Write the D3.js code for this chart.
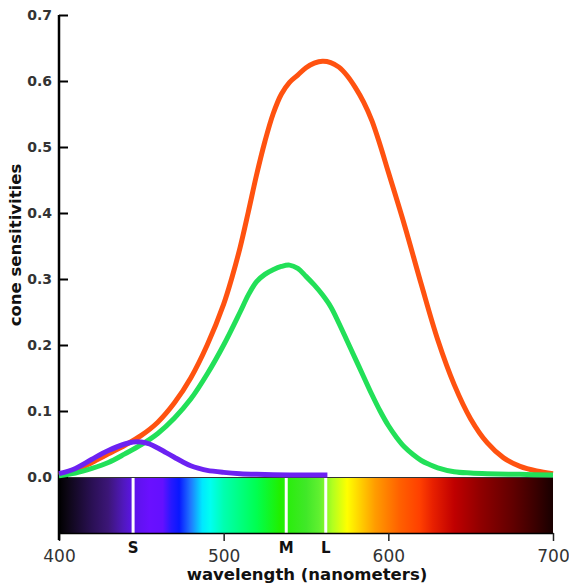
<!DOCTYPE html>
<html>
<head>
<meta charset="utf-8">
<script src="https://cdn.jsdelivr.net/npm/d3@7"></script>
<style>
  html, body { margin: 0; padding: 0; background: #fff; }
  svg { display: block; }
</style>
</head>
<body>
<svg id="chart" width="569" height="584"></svg>
<script>
// ---- data ----
const wavelengthsL = [400,410,420,430,440,450,460,470,480,490,500,505,510,515,520,525,530,535,540,545,550,555,560,565,570,575,580,585,590,595,600,610,620,630,640,650,660,670,680,690,700];
const valuesL      = [0.003,0.010,0.022,0.035,0.048,0.063,0.083,0.112,0.150,0.200,0.262,0.302,0.348,0.402,0.458,0.508,0.550,0.580,0.598,0.609,0.620,0.627,0.630,0.628,0.621,0.608,0.590,0.568,0.540,0.503,0.462,0.380,0.292,0.208,0.140,0.088,0.052,0.029,0.016,0.009,0.005];

const wavelengthsM = [400,410,420,430,440,450,460,470,480,490,500,510,515,520,525,530,535,540,545,550,555,560,565,570,575,580,585,590,595,600,605,610,615,620,625,630,640,650,660,680,700];
const valuesM      = [0.002,0.006,0.013,0.022,0.035,0.049,0.066,0.089,0.118,0.156,0.200,0.250,0.276,0.296,0.307,0.314,0.319,0.321,0.316,0.304,0.291,0.276,0.258,0.233,0.206,0.179,0.152,0.125,0.100,0.078,0.060,0.045,0.034,0.025,0.019,0.014,0.008,0.006,0.005,0.004,0.003];

const wavelengthsS = [400,410,420,430,440,445,450,455,460,465,470,475,480,485,490,500,510,520,540,563];
const valuesS      = [0.005,0.013,0.027,0.040,0.050,0.053,0.053,0.050,0.044,0.037,0.030,0.023,0.017,0.013,0.010,0.007,0.005,0.004,0.003,0.003];

const yTicks = [0.0,0.1,0.2,0.3,0.4,0.5,0.6,0.7];
const xTicks = [400,500,600,700];
const coneLabels = ["S","M","L"];
const conePeaks  = [445,538,562];

const spectrumNm     = [400,405,420,430,439,445,455,463,468,473,480,487,492,500,520,534,550,558,566,575,583,592,600,607,619,627,640,656,676,690,700];
const spectrumColors = ["#000000","#0c0614","#2a1054","#3c1678","#5018bc","#5c14e8","#6a10ff","#6410ff","#2818ff","#0818ff","#2078ff","#00e8ff","#00fff0","#00ffb0","#00ff50","#20f000","#40e828","#60f030","#b0ff20","#ffff00","#ffd000","#ff9c00","#ff7c00","#ff6000","#ff4000","#e82000","#c00000","#900000","#600000","#380000","#180000"];

// ---- chart ----
const svg = d3.select("#chart");
const x = d3.scaleLinear().domain([400,700]).range([59,553]);
const y = d3.scaleLinear().domain([0,0.7]).range([477,15]);

const barTop = 478, barBottom = 533;

// spectrum gradient
const defs = svg.append("defs");
const grad = defs.append("linearGradient").attr("id","spec")
  .attr("gradientUnits","userSpaceOnUse")
  .attr("x1", x(400)).attr("x2", x(700)).attr("y1",0).attr("y2",0);
grad.selectAll("stop").data(spectrumNm).join("stop")
  .attr("offset", (d) => (d-400)/300)
  .attr("stop-color", (d,i) => spectrumColors[i]);

svg.append("rect")
  .attr("x", x(400)).attr("y", barTop)
  .attr("width", x(700)-x(400)).attr("height", barBottom-barTop)
  .attr("fill","url(#spec)");
svg.append("line").attr("x1",x(400)).attr("x2",x(700)).attr("y1",barTop-0.5).attr("y2",barTop-0.5)
  .attr("stroke","#333").attr("stroke-width",1);

// cone peak white lines
svg.selectAll(".peak").data(conePeaks).join("line")
  .attr("class","peak")
  .attr("x1", d => x(d)).attr("x2", d => x(d))
  .attr("y1", barTop).attr("y2", barBottom)
  .attr("stroke","#fff").attr("stroke-width",3);

// x axis (bottom of bar)
const xAxis = d3.axisBottom(x).tickValues(xTicks).tickFormat(d3.format("d"))
  .tickSizeInner(8).tickSizeOuter(0).tickPadding(9);
const gx = svg.append("g").attr("transform",`translate(0,${barBottom})`).call(xAxis);
gx.select(".domain").attr("stroke","#000").attr("stroke-width",1.5);
gx.selectAll(".tick line").attr("stroke","#222").attr("stroke-width",1.5);
gx.selectAll(".tick text")
  .attr("font-family","DejaVu Sans, sans-serif")
  .attr("font-size",17).attr("fill","#333");

// cone letters
svg.selectAll(".cone").data(conePeaks).join("text")
  .attr("class","cone")
  .attr("x", d => x(d)).attr("y", 553)
  .attr("text-anchor","middle")
  .attr("font-family","DejaVu Sans, sans-serif").attr("font-weight","bold")
  .attr("font-size",15).attr("fill","#111")
  .text((d,i) => coneLabels[i]);

// y axis
const yAxis = d3.axisLeft(y).tickValues(yTicks).tickFormat(d3.format(".1f"))
  .tickSizeInner(-9).tickSizeOuter(0).tickPadding(7);
const gy = svg.append("g").attr("transform",`translate(${x(400)},0)`).call(yAxis);
gy.select(".domain").remove();
gy.selectAll(".tick line").attr("stroke","#000").attr("stroke-width",2);
gy.selectAll(".tick text")
  .attr("font-family","DejaVu Sans, sans-serif").attr("font-weight","bold")
  .attr("font-size",14).attr("fill","#333");
svg.append("line").attr("x1",x(400)).attr("x2",x(400)).attr("y1",y(0.7)).attr("y2",barBottom+7)
  .attr("stroke","#000").attr("stroke-width",2.5);

// curves
const line = d3.line().x(d => x(d[0])).y(d => y(d[1])).curve(d3.curveCatmullRom.alpha(0.5));
const series = [
  {w: wavelengthsL, v: valuesL, c: "#ff5210"},
  {w: wavelengthsM, v: valuesM, c: "#22e058"},
  {w: wavelengthsS, v: valuesS, c: "#6c22f2"}
];
series.forEach(s => {
  svg.append("path")
    .datum(s.w.map((w,i) => [w, s.v[i]]))
    .attr("d", line)
    .attr("fill","none")
    .attr("stroke", s.c)
    .attr("stroke-width",5)
    .attr("stroke-linejoin","round")
    .attr("stroke-linecap","butt");
});

// axis titles
svg.append("text")
  .attr("x", 307).attr("y", 580)
  .attr("text-anchor","middle")
  .attr("font-family","DejaVu Sans, sans-serif").attr("font-weight","bold")
  .attr("font-size",16.5).attr("fill","#111")
  .text("wavelength (nanometers)");

svg.append("text")
  .attr("transform","translate(21,245) rotate(-90)")
  .attr("text-anchor","middle")
  .attr("font-family","DejaVu Sans, sans-serif").attr("font-weight","bold")
  .attr("font-size",16.5).attr("fill","#111")
  .text("cone sensitivities");
</script>
</body>
</html>
